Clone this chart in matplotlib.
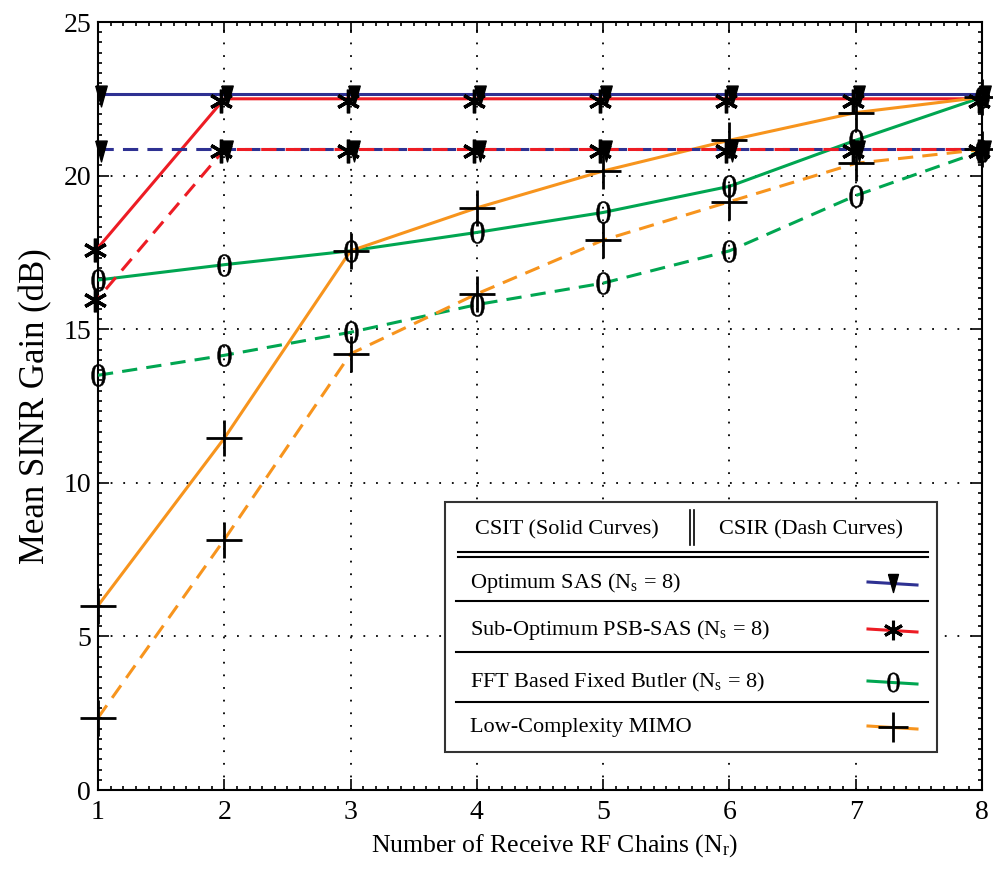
import numpy as np
import matplotlib
matplotlib.use("Agg")
import matplotlib.pyplot as plt
import matplotlib.transforms as mtransforms
from matplotlib.lines import Line2D
from matplotlib.patches import Rectangle

plt.rcParams['font.family'] = ['Liberation Serif', 'DejaVu Serif']
plt.rcParams['mathtext.fontset'] = 'custom'
plt.rcParams['mathtext.rm'] = 'Liberation Serif'
plt.rcParams['mathtext.it'] = 'Liberation Serif:italic'

# receive RF chains
nr = [1, 2, 3, 4, 5, 6, 7, 8]

# CSIT (solid curves)
sas_csit = [22.65, 22.65, 22.65, 22.65, 22.65, 22.65, 22.65, 22.65]
psb_csit = [17.65, 22.5, 22.5, 22.5, 22.5, 22.5, 22.5, 22.5]
butler_csit = [16.6, 17.1, 17.55, 18.15, 18.8, 19.65, 21.15, 22.55]
mimo_csit = [6.0, 11.45, 17.55, 18.95, 20.15, 21.15, 22.05, 22.55]

# CSIR (dash curves)
sas_csir = [20.85, 20.85, 20.85, 20.85, 20.85, 20.85, 20.85, 20.85]
psb_csir = [16.0, 20.85, 20.85, 20.85, 20.85, 20.85, 20.85, 20.85]
butler_csir = [13.5, 14.15, 14.9, 15.8, 16.5, 17.55, 19.35, 20.8]
mimo_csir = [2.35, 8.15, 14.2, 16.15, 17.9, 19.15, 20.4, 20.85]

labels = [r'Optimum SAS (N$_\mathrm{s}$ = 8)',
          r'Sub-Optimum PSB-SAS (N$_\mathrm{s}$ = 8)',
          r'FFT Based Fixed Butler (N$_\mathrm{s}$ = 8)',
          'Low-Complexity MIMO']

BLUE = '#2e3192'
RED = '#ed1c24'
GREEN = '#00a651'
ORANGE = '#f7941d'

W, H = 993, 871
fig = plt.figure(figsize=(W / 100, H / 100), dpi=100)
ax = fig.add_axes([98 / W, 1 - 790 / H, 884 / W, 768 / H])

lw = 2.2
dash = (0, (5, 3))
dash_off = (4, (5, 3))

# curves
ax.plot(nr, sas_csit, color=BLUE, lw=lw, zorder=3)
ax.plot(nr, psb_csit, color=RED, lw=lw, zorder=3)
ax.plot(nr, butler_csit, color=GREEN, lw=lw, zorder=3)
ax.plot(nr, mimo_csit, color=ORANGE, lw=lw, zorder=3)
ax.plot(nr, sas_csir, color=BLUE, lw=lw, ls=dash, zorder=3)
ax.plot(nr, psb_csir, color=RED, lw=lw, ls=dash_off, zorder=3)
ax.plot(nr, butler_csir, color=GREEN, lw=lw, ls=dash, zorder=3)
ax.plot(nr, mimo_csir, color=ORANGE, lw=lw, ls=dash, zorder=3)


def shifted(dx, dy):
    return ax.transData + mtransforms.ScaledTranslation(dx / 100, dy / 100, fig.dpi_scale_trans)


# narrow downward triangle, like the original glyph
tri = [(-0.55, 1.0), (0.55, 1.0), (0.0, -1.0), (-0.55, 1.0)]
zero_marker = r'$\mathrm{0}$'
mk = dict(ls='none', color='k', zorder=5, clip_on=False)
for ys in (sas_csit, sas_csir):
    ax.plot(nr, ys, marker=tri, ms=15, transform=shifted(3, -2), **mk)
for ys in (psb_csit, psb_csir):
    ax.plot(nr, ys, marker=(6, 2, 0), ms=17, mew=2.4, transform=shifted(-3, -2), **mk)
for ys in (butler_csit, butler_csir):
    ax.plot(nr, ys, marker=zero_marker, ms=16, mew=0.3, **mk)
for ys in (mimo_csit, mimo_csir):
    ax.plot(nr, ys, marker='+', ms=26, mew=2.0, **mk)

ax.set_xlim(1, 8)
ax.set_ylim(0, 25)
ax.set_xticks(nr)
ax.set_yticks([0, 5, 10, 15, 20, 25])
ax.set_xticks(np.arange(1, 8.001, 0.1), minor=True)
ax.set_yticks(np.arange(0, 25.001, 1 / 3), minor=True)
ax.tick_params(which='both', direction='in', top=True, right=True, labelsize=20, width=1.2)
ax.tick_params(which='major', length=8)
ax.tick_params(axis='x', which='major', pad=7)
ax.tick_params(axis='y', which='major', pad=5)
ax.tick_params(which='minor', length=3)
for s in ax.spines.values():
    s.set_linewidth(1.5)
ax.grid(True, which='major', color='k', ls=(0, (1, 6)), lw=1.3)

ax.set_xlabel(r'Number of Receive RF Chains (N$_\mathrm{r}$)', fontsize=18.5, labelpad=6)
ax.xaxis.set_label_coords(0.5 + 15 / 884, -0.055)
ax.set_ylabel('Mean SINR Gain (dB)', fontsize=25, labelpad=8)


# hand-made legend box (pixel positions of the original figure)
def fx(px):
    return px / W


def fy(py):
    return 1 - py / H


tf = fig.transFigure
fig.patches.append(Rectangle((fx(445), fy(752)), fx(937) - fx(445), fy(502) - fy(752),
                             transform=tf, facecolor='white', edgecolor='#333333', lw=1.5, zorder=10))
fig.text(fx(567), fy(530), 'CSIT (Solid Curves)', ha='center', va='center', fontsize=16, zorder=11)
fig.text(fx(811), fy(530), 'CSIR (Dash Curves)', ha='center', va='center', fontsize=16, zorder=11)
for xx in (690, 694):
    fig.lines.append(Line2D([fx(xx), fx(xx)], [fy(510), fy(545)], transform=tf, color='k', lw=1.2, zorder=11))
for yy in (552, 557):
    fig.lines.append(Line2D([fx(458), fx(928)], [fy(yy), fy(yy)], transform=tf, color='k', lw=1.5, zorder=11))
for yy in (601, 652, 702):
    fig.lines.append(Line2D([fx(456), fx(928)], [fy(yy), fy(yy)], transform=tf, color='k', lw=1.5, zorder=11))

rows_y = [583, 630, 682, 727]
colors = [BLUE, RED, GREEN, ORANGE]
markers = [dict(marker=tri, ms=13),
           dict(marker=(6, 2, 0), ms=14, mew=2.2),
           dict(marker=zero_marker, ms=14, mew=0.3),
           dict(marker='+', ms=22, mew=2.0)]
for lab, yy, col, m in zip(labels, rows_y, colors, markers):
    fig.text(fx(470), fy(yy), lab, ha='left', va='center', fontsize=16, zorder=11)
    fig.lines.append(Line2D([fx(868), fx(917)], [fy(yy - 1), fy(yy + 2)], transform=tf,
                            color=col, lw=lw, zorder=11))
    fig.lines.append(Line2D([fx(893)], [fy(yy)], transform=tf, color='k', ls='none', zorder=12, **m))

fig.savefig('out.png', dpi=100)
